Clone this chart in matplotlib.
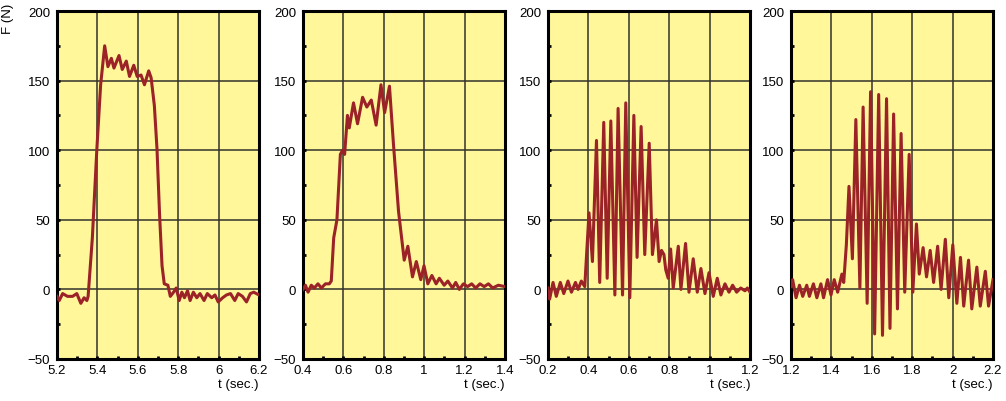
import matplotlib
matplotlib.use("Agg")
from matplotlib import pyplot as plt
from matplotlib.ticker import MultipleLocator, FuncFormatter

plt.rcParams['font.family'] = ['Liberation Sans', 'DejaVu Sans']

# panel 1 : 5.2 .. 6.2 s
t1 = [5.200, 5.211, 5.228, 5.252, 5.277, 5.298, 5.318, 5.334, 5.348, 5.354,
      5.375, 5.397, 5.416, 5.436, 5.452, 5.469, 5.482, 5.507, 5.523, 5.543,
      5.559, 5.580, 5.597, 5.616, 5.633, 5.654, 5.666, 5.682, 5.695, 5.708,
      5.720, 5.731, 5.749, 5.761, 5.777, 5.790, 5.805, 5.818, 5.831, 5.846,
      5.859, 5.875, 5.892, 5.908, 5.928, 5.944, 5.966, 5.982, 5.998, 6.020,
      6.039, 6.059, 6.080, 6.097, 6.118, 6.138, 6.157, 6.174, 6.200]
f1 = [-5, -8, -3, -5, -5, -3, -10, -6, -8, -5,
      37, 100, 147, 175, 160, 166, 159, 168, 158, 164,
      153, 161, 153, 154, 147, 157, 152, 132, 101, 53,
      17, 4, 3, -5, -2, 1, -8, -2, -6, -1,
      -8, -2, -6, -3, -8, -3, -6, -4, -9, -6,
      -4, -3, -8, -3, -5, -9, -3, -2, -4]

# panel 2 : 0.4 .. 1.4 s
t2 = [0.400, 0.412, 0.425, 0.441, 0.456, 0.474, 0.491, 0.511, 0.530, 0.540,
      0.552, 0.568, 0.585, 0.596, 0.606, 0.620, 0.629, 0.650, 0.670, 0.695,
      0.716, 0.738, 0.762, 0.786, 0.804, 0.828, 0.848, 0.873, 0.901, 0.919,
      0.942, 0.961, 0.983, 0.999, 1.018, 1.038, 1.059, 1.075, 1.099, 1.117,
      1.140, 1.156, 1.174, 1.194, 1.215, 1.235, 1.255, 1.276, 1.297, 1.318,
      1.339, 1.367, 1.400]
f2 = [0, 3, -2, 3, 1, 4, 1, 4, 4, 6,
      37, 50, 97, 100, 97, 125, 116, 134, 119, 138,
      131, 136, 118, 147, 127, 146, 104, 56, 21, 31,
      9, 20, 7, 17, 4, 10, 4, 8, 3, 6,
      1, 5, 0, 4, 2, 4, 1, 4, 2, 4,
      1, 3, 2]

# panel 3 : 0.2 .. 1.2 s
t3 = [0.200, 0.208, 0.225, 0.241, 0.261, 0.278, 0.299, 0.316, 0.336, 0.349,
      0.365, 0.382, 0.393, 0.403, 0.420, 0.440, 0.456, 0.476, 0.493, 0.511,
      0.531, 0.547, 0.569, 0.585, 0.605, 0.625, 0.641, 0.661, 0.679, 0.701,
      0.717, 0.737, 0.750, 0.762, 0.774, 0.783, 0.795, 0.807, 0.820, 0.845,
      0.858, 0.881, 0.898, 0.919, 0.939, 0.957, 0.977, 0.997, 1.018, 1.038,
      1.056, 1.076, 1.096, 1.114, 1.134, 1.154, 1.175, 1.187, 1.200]
f3 = [1, -7, 5, -5, 5, -3, 6, -2, 5, 0,
      6, 2, 30, 55, 20, 107, 5, 120, 8, 121,
      -4, 130, -4, 134, -6, 125, 23, 117, 25, 105,
      25, 50, 20, 28, 25, 14, 8, 29, 1, 31,
      0, 33, -2, 22, -2, 15, -3, 12, -5, 8,
      -4, 4, -2, 3, -2, 1, -1, 1, -2]

# panel 4 : 1.2 .. 2.2 s
t4 = [1.200, 1.208, 1.225, 1.242, 1.258, 1.278, 1.291, 1.311, 1.328, 1.348,
      1.361, 1.381, 1.398, 1.414, 1.431, 1.452, 1.461, 1.474, 1.487, 1.504,
      1.521, 1.541, 1.557, 1.577, 1.594, 1.614, 1.634, 1.653, 1.673, 1.690,
      1.708, 1.727, 1.745, 1.763, 1.785, 1.803, 1.821, 1.835, 1.854, 1.871,
      1.889, 1.906, 1.926, 1.943, 1.964, 1.981, 2.001, 2.021, 2.039, 2.055,
      2.079, 2.095, 2.120, 2.137, 2.162, 2.178, 2.200]
f4 = [2, 7, -6, 3, -5, 3, -5, 4, -6, 4,
      -6, 7, -4, 7, -2, 11, 5, 32, 74, 22,
      122, 1, 131, -10, 142, -32, 140, -33, 137, -28,
      126, -14, 112, -2, 97, -2, 47, 11, 30, 9,
      28, 5, 31, 0, 36, -6, 32, -10, 23, -12,
      21, -14, 16, -12, 13, -12, 7]

series = [(t1, f1), (t2, f2), (t3, f3), (t4, f4)]
x_ranges = [(5.2, 6.2), (0.4, 1.4), (0.2, 1.2), (1.2, 2.2)]
lefts = [57, 303, 548, 791]

W, H = 1006, 402
fig = plt.figure(figsize=(W / 100, H / 100), dpi=100)

fmt = FuncFormatter(lambda v, p: '%g' % round(v, 3))

for i, ((t, f), (x0, x1), left) in enumerate(zip(series, x_ranges, lefts)):
    ax = fig.add_axes([left / W, (H - 360) / H, 202 / W, 348 / H])
    ax.set_facecolor('#fff79a')
    ax.plot(t, f, color='#9b2226', lw=2.2, solid_joinstyle='round', zorder=3)
    ax.set_xlim(x0, x1)
    ax.set_ylim(-50, 200)
    ax.xaxis.set_major_locator(MultipleLocator(0.2))
    ax.xaxis.set_minor_locator(MultipleLocator(0.1))
    ax.yaxis.set_major_locator(MultipleLocator(50))
    ax.yaxis.set_minor_locator(MultipleLocator(25))
    ax.xaxis.set_major_formatter(fmt)
    ax.grid(True, which='major', color='#33332a', lw=1.1)
    ax.tick_params(which='both', direction='in', length=2.5, width=2,
                   labelsize=9.5, pad=5, colors='black')
    ax.tick_params(axis='x', which='major', pad=3.5)
    ax.tick_params(axis='both', which='both', top=False, right=False)
    for s in ax.spines.values():
        s.set_linewidth(2.2)
        s.set_color('black')
    ax.text(1.0, -0.072, 't (sec.)', transform=ax.transAxes, ha='right',
            va='center', fontsize=9.5)
    if i == 0:
        fig.text(8 / W, 1 - 19 / H, 'F (N)', rotation=90, ha='center',
                 va='center', fontsize=9.5)

fig.savefig('out.png', dpi=100)
